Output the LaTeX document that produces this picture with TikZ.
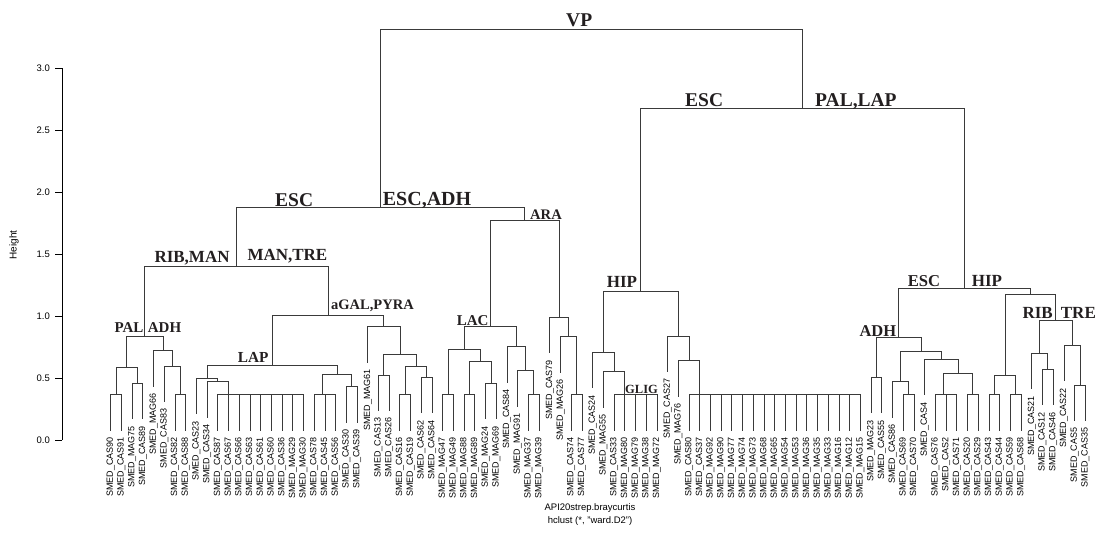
\documentclass[tikz,border=0pt]{standalone}
\usepackage{fontspec}
\setmainfont{Liberation Serif}
\setsansfont{Liberation Sans}
\definecolor{linecol}{HTML}{3A3A3A}
\definecolor{txtcol}{HTML}{231F20}
\newcommand\mergeto[3]{\draw[link] (#1) -| (#2) (#1) -| (#3);}
\begin{document}
\begin{tikzpicture}[x=1pt,y=-1pt,
  link/.style={draw=linecol,line width=0.8pt},
  leaflab/.style={rotate=90,anchor=east,inner sep=0pt,font=\fontsize{9}{9}\selectfont\sffamily,text=black},
  clab/.style={anchor=base west,inner sep=0pt,text=txtcol,font=\bfseries\fontsize{17}{17}\selectfont},
  axlab/.style={inner sep=0pt,font=\fontsize{9.5}{9.5}\selectfont\sffamily,text=black}]
\useasboundingbox (0,0) rectangle (1096,539);
% leaves
\foreach \i/\py/\t in {1/394.5/CAS90,2/394.5/CAS91,3/383.3/MAG75,4/383.3/CAS89,5/350.7/MAG66,6/366/CAS83,7/394.5/CAS82,8/394.5/CAS88,
 9/378.3/CAS23,10/381.7/CAS34,11/394.5/CAS87,12/394.5/CAS67,13/394.5/CAS66,14/394.5/CAS63,15/394.5/CAS61,16/394.5/CAS60,17/394.5/CAS36,
 18/394.5/MAG29,19/394.5/MAG30,20/394.5/CAS78,21/394.5/CAS45,22/394.5/CAS56,23/386.7/CAS30,24/386.7/CAS39,25/326.7/MAG61,
 26/375/CAS13,27/375/CAS26,28/394.5/CAS16,29/394.5/CAS19,30/377.3/CAS62,31/377.3/CAS64,32/394.5/MAG47,33/394.5/MAG49,
 34/394.5/MAG88,35/394.5/MAG89,36/383.3/MAG24,37/383.3/MAG69,38/346.7/CAS84,39/370.7/MAG91,40/394.5/MAG37,41/394.5/MAG39,
 42/317.3/CAS79,43/336.7/MAG26,44/394.5/CAS74,45/394.5/CAS77,46/352.3/CAS24,47/371.7/MAG55,48/394.5/CAS33,49/394.5/MAG80,
 50/394.5/MAG79,51/394.5/MAG38,52/394.5/MAG72,53/336/CAS27,54/360.7/MAG76,55/394.5/CAS80,56/394.5/CAS37,57/394.5/MAG92,
 58/394.5/MAG90,59/394.5/MAG77,60/394.5/MAG74,61/394.5/MAG73,62/394.5/MAG68,63/394.5/MAG65,64/394.5/MAG54,65/394.5/MAG53,
 66/394.5/MAG36,67/394.5/MAG35,68/394.5/MAG33,69/394.5/MAG16,70/394.5/MAG12,71/394.5/MAG15,72/377.3/MAG23,73/377.3/CAS55,
 74/381.7/CAS86,75/394.5/CAS69,76/394.5/CAS70,77/359.3/CAS4,78/394.5/CAS76,79/394.5/CAS2,80/394.5/CAS71,81/394.5/CAS20,
 82/394.5/CAS29,83/394.5/CAS43,84/394.5/CAS44,85/394.5/CAS59,86/394.5/CAS68,87/353.3/CAS21,88/369.3/CAS12,89/369.3/CAS46,
 90/345.3/CAS22,91/385/CAS5,92/385/CAS35}{
  \coordinate (L\i) at ({100+10.71*\i},{\py+36});
  \node[leaflab] (T\i) at ({100+10.71*\i},{\py+42.5}) {SMED\_\t};
}
% merge points, left half
\coordinate (m12) at (116.05,394.5);
\coordinate (m34) at (137.45,383.3);
\coordinate (m1234) at (126.75,367.3);
\coordinate (m78) at (180.35,394.5);
\coordinate (m678) at (172.3,366);
\coordinate (m5678) at (162.95,350.7);
\coordinate (mPA) at (144.85,336);
\coordinate (gA) at (228.5,394.5);
\coordinate (m10g) at (217.8,381.7);
\coordinate (m9) at (207.1,378.3);
\coordinate (gB) at (322.2,394.5);
\coordinate (m2324) at (351.65,386.7);
\coordinate (mB) at (336.9,374.3);
\coordinate (mLAP) at (272,365.5);
\coordinate (m2627) at (383.85,375);
\coordinate (m2829) at (405.25,394.5);
\coordinate (m3031) at (426.65,377.3);
\coordinate (m2831) at (415.95,366.7);
\coordinate (m2631) at (399.9,354);
\coordinate (m25) at (383.85,326.7);
\coordinate (mAG) at (327.9,315);
\coordinate (mRM) at (236.4,266);
\coordinate (m3233) at (448.05,394.5);
\coordinate (m3435) at (469.45,394.5);
\coordinate (m3637) at (490.95,383.3);
\coordinate (m3437) at (480.2,361.7);
\coordinate (m3237) at (464.1,349);
\coordinate (m4041) at (533.75,394.5);
\coordinate (m3941) at (525.7,370.7);
\coordinate (m3841) at (516.35,346.7);
\coordinate (mLAC) at (490.25,326.7);
\coordinate (m4445) at (576.55,394.5);
\coordinate (m4345) at (568.5,336.7);
\coordinate (m4245) at (559.15,317.3);
\coordinate (mARA) at (524.7,220.7);
\coordinate (mEA) at (380.55,207.7);
% merge points, right half
\coordinate (gC) at (624.8,394.5);
\coordinate (m47) at (614.1,371.7);
\coordinate (m46) at (603.4,352.3);
\coordinate (gD) at (699.8,394.5);
\coordinate (m54) at (689.05,360.7);
\coordinate (m53) at (678.3,336);
\coordinate (mHIP) at (640.85,291);
\coordinate (m7273) at (876.45,377.3);
\coordinate (m7576) at (908.6,394.5);
\coordinate (m74) at (900.55,381.7);
\coordinate (g78) at (943.45,394.5);
\coordinate (m8182) at (972.85,394.5);
\coordinate (m7882) at (958.15,373.3);
\coordinate (m77) at (941.4,359.3);
\coordinate (m7482) at (920.98,351.7);
\coordinate (mADH) at (898.7,337.7);
\coordinate (m8384) at (994.25,394.5);
\coordinate (m8586) at (1015.7,394.5);
\coordinate (m8386) at (1004.98,375.3);
\coordinate (m8889) at (1047.85,369.3);
\coordinate (m87) at (1039.8,353.3);
\coordinate (m9192) at (1079.95,385);
\coordinate (m90) at (1071.9,345.3);
\coordinate (mRT) at (1055.85,320);
\coordinate (mHIP2) at (1030.4,294);
\coordinate (mEH) at (964.55,288.3);
\coordinate (mEPL) at (802.7,108.3);
\coordinate (mVP) at (591.6,29.5);
% connectors
\mergeto{m12}{L1}{L2}
\mergeto{m34}{L3}{L4}
\mergeto{m1234}{m12}{m34}
\mergeto{m78}{L7}{L8}
\mergeto{m678}{L6}{m78}
\mergeto{m5678}{L5}{m678}
\mergeto{mPA}{m1234}{m5678}
\foreach \k in {11,...,19} {\draw[link] (gA) -| (L\k);}
\mergeto{m10g}{L10}{gA}
\mergeto{m9}{L9}{m10g}
\foreach \k in {20,21,22} {\draw[link] (gB) -| (L\k);}
\mergeto{m2324}{L23}{L24}
\mergeto{mB}{gB}{m2324}
\mergeto{mLAP}{m9}{mB}
\mergeto{m2627}{L26}{L27}
\mergeto{m2829}{L28}{L29}
\mergeto{m3031}{L30}{L31}
\mergeto{m2831}{m2829}{m3031}
\mergeto{m2631}{m2627}{m2831}
\mergeto{m25}{L25}{m2631}
\mergeto{mAG}{mLAP}{m25}
\mergeto{mRM}{mPA}{mAG}
\mergeto{m3233}{L32}{L33}
\mergeto{m3435}{L34}{L35}
\mergeto{m3637}{L36}{L37}
\mergeto{m3437}{m3435}{m3637}
\mergeto{m3237}{m3233}{m3437}
\mergeto{m4041}{L40}{L41}
\mergeto{m3941}{L39}{m4041}
\mergeto{m3841}{L38}{m3941}
\mergeto{mLAC}{m3237}{m3841}
\mergeto{m4445}{L44}{L45}
\mergeto{m4345}{L43}{m4445}
\mergeto{m4245}{L42}{m4345}
\mergeto{mARA}{mLAC}{m4245}
\mergeto{mEA}{mRM}{mARA}
\foreach \k in {48,...,52} {\draw[link] (gC) -| (L\k);}
\mergeto{m47}{L47}{gC}
\mergeto{m46}{L46}{m47}
\foreach \k in {55,...,71} {\draw[link] (gD) -| (L\k);}
\mergeto{m54}{L54}{gD}
\mergeto{m53}{L53}{m54}
\mergeto{mHIP}{m46}{m53}
\mergeto{m7273}{L72}{L73}
\mergeto{m7576}{L75}{L76}
\mergeto{m74}{L74}{m7576}
\foreach \k in {78,79,80} {\draw[link] (g78) -| (L\k);}
\mergeto{m8182}{L81}{L82}
\mergeto{m7882}{g78}{m8182}
\mergeto{m77}{L77}{m7882}
\mergeto{m7482}{m74}{m77}
\mergeto{mADH}{m7273}{m7482}
\mergeto{m8384}{L83}{L84}
\mergeto{m8586}{L85}{L86}
\mergeto{m8386}{m8384}{m8586}
\mergeto{m8889}{L88}{L89}
\mergeto{m87}{L87}{m8889}
\mergeto{m9192}{L91}{L92}
\mergeto{m90}{L90}{m9192}
\mergeto{mRT}{m87}{m90}
\mergeto{mHIP2}{m8386}{mRT}
\mergeto{mEH}{mADH}{mHIP2}
\mergeto{mEPL}{mHIP}{mEH}
\mergeto{mVP}{mEA}{mEPL}
% cluster labels
\node[clab,font=\bfseries\fontsize{19.5}{19.5}\selectfont] (cVP) at (566,26) {VP};
\node[clab,font=\bfseries\fontsize{19.5}{19.5}\selectfont] (cESC1) at (685,106) {ESC};
\node[clab,font=\bfseries\fontsize{19.5}{19.5}\selectfont] (cPL) at (815,106) {PAL,LAP};
\node[clab,font=\bfseries\fontsize{19.5}{19.5}\selectfont] (cESC2) at (275,206) {ESC};
\node[clab,font=\bfseries\fontsize{20}{20}\selectfont] (cEA) at (382.7,205) {ESC,ADH};
\node[clab] (cRM) at (154.3,262.7) {RIB,MAN};
\node[clab] (cMT) at (247.3,260.7) {MAN,TRE};
\node[clab,font=\bfseries\fontsize{14.5}{14.5}\selectfont] (cAG) at (331,309.3) {aGAL,PYRA};
\node[clab,font=\bfseries\fontsize{15}{15}\selectfont] (cPAL) at (114.3,332.7) {PAL};
\node[clab,font=\bfseries\fontsize{15}{15}\selectfont] (cADH1) at (147.7,332.7) {ADH};
\node[clab,font=\bfseries\fontsize{15.3}{15.3}\selectfont] (cLAP) at (237.7,362.7) {LAP};
\node[clab,font=\bfseries\fontsize{15}{15}\selectfont] (cLAC) at (456.7,325) {LAC};
\node[clab,font=\bfseries\fontsize{14.6}{14.6}\selectfont] (cARA) at (530,219.3) {ARA};
\node[clab] (cHIP1) at (606.7,287.3) {HIP};
\node[clab,font=\bfseries\fontsize{12.5}{12.5}\selectfont] (cGLIG) at (625,393.3) {GLIG};
\node[clab,font=\bfseries\fontsize{16.6}{16.6}\selectfont] (cESC3) at (907.7,286.7) {ESC};
\node[clab] (cHIP2) at (971.7,286) {HIP};
\node[clab,font=\bfseries\fontsize{16.5}{16.5}\selectfont] (cADH2) at (859.3,336) {ADH};
\node[clab] (cRIB) at (1022.3,318.3) {RIB};
\node[clab] (cTRE) at (1060.7,318.3) {TRE};
% axis
\draw[link,draw=black] (62,68) -- (62,440);
\foreach \k/\v in {0/0.0,1/0.5,2/1.0,3/1.5,4/2.0,5/2.5,6/3.0} {
  \draw[link,draw=black] (55,{440-62*\k}) -- (62,{440-62*\k});
  \node[axlab,anchor=east] (tk\k) at (50,{440-62*\k}) {\v};
}
\node[axlab,rotate=90,font=\fontsize{10}{10}\selectfont\sffamily] (ylab) at (14,245) {Height};
\node[axlab] (xlab1) at (590,508) {API20strep.braycurtis};
\node[axlab] (xlab2) at (590,521.5) {hclust (*, "ward.D2")};
\end{tikzpicture}
\end{document}
